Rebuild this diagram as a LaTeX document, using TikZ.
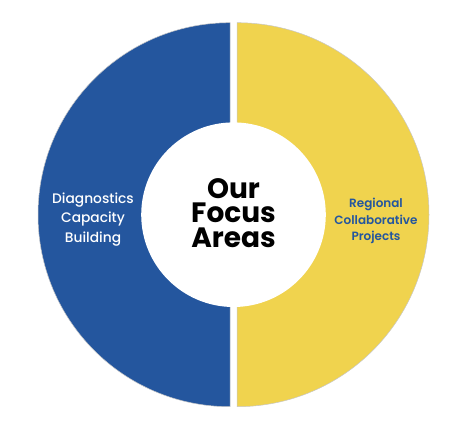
\documentclass[tikz,border=0pt]{standalone}
\usepackage{fontspec}
\setmainfont{Poppins}
\newfontfamily\popB{Poppins Bold}
\newfontfamily\popM{Poppins Medium}
\newfontfamily\popSB{Poppins SemiBold}
\definecolor{dblue}{HTML}{24569E}
\definecolor{dyellow}{HTML}{F0D34E}
\tikzset{
  half/.style={draw=black!22, line width=0.5pt},
  lefttext/.style={text=white, align=center, font=\popM\fontsize{13.8}{19.5}\selectfont},
  righttext/.style={text=dblue, align=center, font=\popSB\fontsize{12}{16.7}\selectfont},
  centertext/.style={text=black, align=center, font=\popB\fontsize{28}{24.3}\selectfont},
}
\begin{document}
\begin{tikzpicture}[x=1pt,y=-1pt]
\useasboundingbox (0,0) rectangle (465,425);
\path[half, fill=dblue] (230,22.7) arc[start angle=-90, end angle=-270, radius=192] -- cycle;
\path[half, fill=dyellow] (237,22.7) arc[start angle=-90, end angle=90, radius=192] -- cycle;
\node[circle, fill=white, minimum size=184.6pt, inner sep=0pt] (hole) at (233.5,214.7) {};
\node[centertext] (center) at (233.5,213) {Our\\Focus\\Areas};
\node[lefttext] (left) at (93,219.5) {Diagnostics\\Capacity\\Building};
\node[righttext] (right) at (376,221) {Regional\\Collaborative\\Projects};
\end{tikzpicture}
\end{document}
